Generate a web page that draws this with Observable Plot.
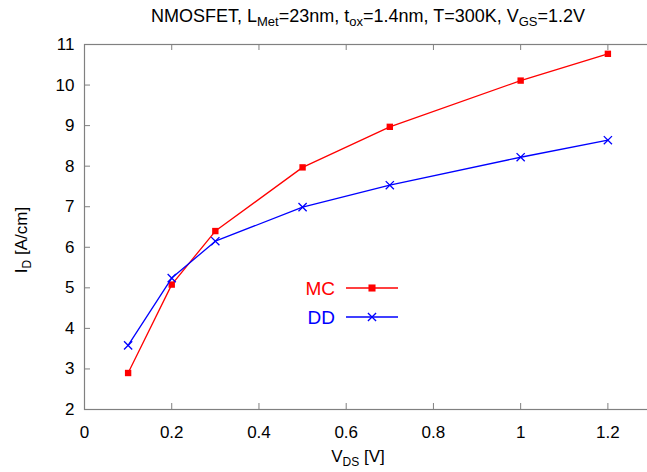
<!DOCTYPE html>
<html><head><meta charset="utf-8">
<script src="https://cdn.jsdelivr.net/npm/d3@7"></script>
<script src="https://cdn.jsdelivr.net/npm/@observablehq/plot@0.6"></script>
<style>body{margin:0;background:#fff} svg{display:block}</style>
</head><body><div id="chart"></div>
<script>
const vds = [0.1, 0.2, 0.3, 0.5, 0.7, 1.0, 1.2];
const mcValues = [2.9, 5.08, 6.4, 7.97, 8.97, 10.11, 10.77];
const ddValues = [3.58, 5.24, 6.15, 6.99, 7.53, 8.22, 8.64];
const seriesNames = ["MC", "DD"];
const seriesColors = ["#ff0000", "#0000ff"];
const seriesSymbols = ["square", "times"];
const xTicks = [0, 0.2, 0.4, 0.6, 0.8, 1, 1.2];
const yTicks = [2, 3, 4, 5, 6, 7, 8, 9, 10, 11];

const W = 647, H = 472;
const mT = 44, mB = 63, mL = 84, mR = -4;
const innerH = H - mT - mB, innerW = W - mL - mR;
const font = "'Liberation Sans', Arial, Helvetica, sans-serif";

const mc = vds.map((x, i) => ({x, y: mcValues[i]}));
const dd = vds.map((x, i) => ({x, y: ddValues[i]}));
const frameColor = "#808080";
const tk = 6;

const plot = Plot.plot({
  width: W, height: H,
  marginTop: mT, marginBottom: mB, marginLeft: mL, marginRight: mR,
  style: {fontFamily: font, fontSize: "17px", background: "#fff", overflow: "visible"},
  x: {domain: [0, 1.3], label: null},
  y: {domain: [2, 11], label: null},
  marks: [
    Plot.tickX(xTicks, {x: d => d, stroke: frameColor, insetTop: innerH - tk}),
    Plot.tickX(xTicks, {x: d => d, stroke: frameColor, insetBottom: innerH - tk}),
    Plot.tickY(yTicks, {y: d => d, stroke: frameColor, insetRight: innerW - tk}),
    Plot.frame({stroke: frameColor, strokeWidth: 1.2}),
    Plot.axisX(xTicks, {tickSize: 0, tickPadding: 16, fontSize: 17, fill: "#000", tickFormat: d => String(d)}),
    Plot.axisY(yTicks, {tickSize: 0, tickPadding: 10, fontSize: 17, fill: "#000"}),
    Plot.line(mc, {x: "x", y: "y", stroke: seriesColors[0], strokeWidth: 1.3}),
    Plot.dot(mc, {x: "x", y: "y", symbol: seriesSymbols[0], fill: seriesColors[0], r: 3.6}),
    Plot.line(dd, {x: "x", y: "y", stroke: seriesColors[1], strokeWidth: 1.3}),
    Plot.dot(dd, {x: "x", y: "y", symbol: seriesSymbols[1], stroke: seriesColors[1], r: 3.8, strokeWidth: 1.3})
  ]
});
document.getElementById("chart").appendChild(plot);

const svg = d3.select(plot);
function subText(g, parts, size, subSize) {
  let prevSub = false;
  parts.forEach(([t, sub]) => {
    const ts = g.append("tspan").text(t);
    if (sub) ts.attr("font-size", subSize).attr("dy", 4);
    else ts.attr("font-size", size).attr("dy", prevSub ? -4 : 0);
    prevSub = !!sub;
  });
}
// title
const title = svg.append("text").attr("x", 368).attr("y", 22).attr("text-anchor", "middle")
  .attr("font-family", font).attr("fill", "#000");
subText(title, [["NMOSFET, L"], ["Met", 1], ["=23nm, t"], ["ox", 1], ["=1.4nm, T=300K, V"], ["GS", 1], ["=1.2V"]], 18, 13);
// x label
const xl = svg.append("text").attr("x", 358).attr("y", 462).attr("text-anchor", "middle")
  .attr("font-family", font).attr("fill", "#000");
subText(xl, [["V"], ["DS", 1], [" [V]"]], 17, 12);
// y label
const yl = svg.append("text").attr("transform", "translate(27,240) rotate(-90)").attr("text-anchor", "middle")
  .attr("font-family", font).attr("fill", "#000");
subText(yl, [["I"], ["D", 1], [" [A/cm]"]], 17, 12);

// legend
const sym = [d3.symbolSquare, d3.symbolTimes];
seriesNames.forEach((name, i) => {
  const y = 288 + i * 29;
  const g = svg.append("g");
  g.append("text").attr("x", 335).attr("y", y + 7).attr("text-anchor", "end")
    .attr("font-family", font).attr("font-size", 19).attr("fill", seriesColors[i]).text(name);
  g.append("line").attr("x1", 346).attr("x2", 398).attr("y1", y).attr("y2", y)
    .attr("stroke", seriesColors[i]).attr("stroke-width", 1.3);
  const p = g.append("path").attr("transform", `translate(372,${y})`);
  if (i === 0) p.attr("d", d3.symbol(sym[i], 50)()).attr("fill", seriesColors[i]);
  else p.attr("d", d3.symbol(sym[i], 45)()).attr("fill", "none").attr("stroke", seriesColors[i]).attr("stroke-width", 1.3);
});
</script></body></html>
